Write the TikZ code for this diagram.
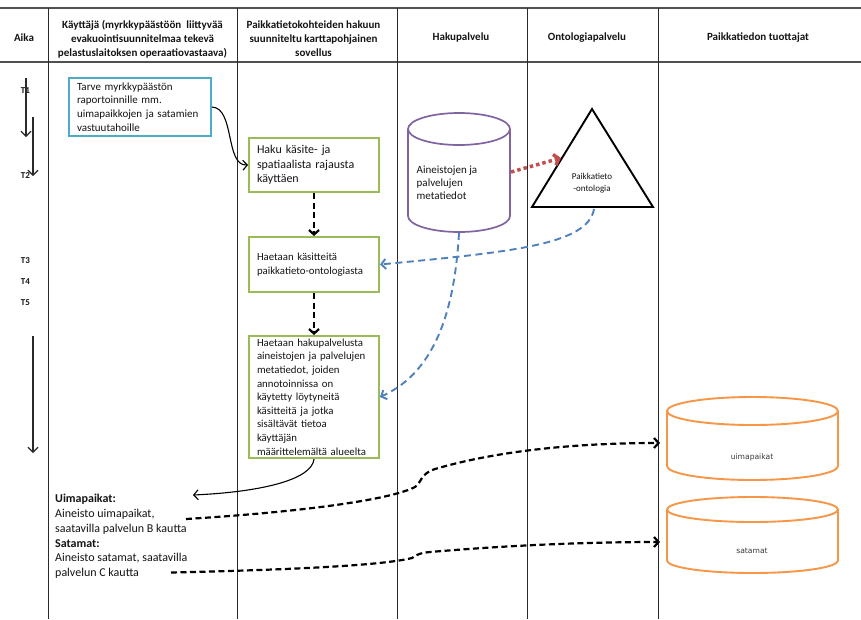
\documentclass[tikz,border=0pt]{standalone}
\usepackage{fontspec}
\setmainfont{Carlito}
\newfontfamily\dejavu{DejaVu Sans}
\usetikzlibrary{arrows.meta}

\definecolor{gridgray}{HTML}{2A2A2A}
\definecolor{rulegray}{HTML}{505050}
\definecolor{tealbox}{HTML}{4BACC6}
\definecolor{greenbox}{HTML}{9BBB59}
\definecolor{purplecyl}{HTML}{8064A2}
\definecolor{orangecyl}{HTML}{F79646}
\definecolor{bluelink}{HTML}{4F81BD}
\definecolor{redlink}{HTML}{C0504D}
\definecolor{txt}{HTML}{141414}

\begin{document}
\begin{tikzpicture}[x=1pt,y=-1pt,
  hdr/.style={font=\fontsize{11}{14}\selectfont\bfseries, align=center, inner sep=0pt, text=txt},
  tlabel/.style={font=\fontsize{9}{10}\selectfont\bfseries, inner sep=0pt, text=txt},
  lane/.style={draw=gridgray, line width=0.9pt},
  hrule/.style={draw=rulegray, line width=2pt},
  needbox/.style={draw=tealbox, line width=2pt, inner xsep=8pt, inner ysep=0pt,
    align=left, text width=126pt, minimum width=142pt, text=txt,
    font=\fontsize{11}{13.7}\selectfont},
  stepbox/.style={draw=greenbox, line width=2pt, inner xsep=8pt, inner ysep=0pt,
    align=left, text width=114pt, minimum width=130pt, text=txt},
  timearrow/.style={draw=gridgray, line width=1.1pt, -{Straight Barb[length=5pt,width=10pt]}},
  thinlink/.style={draw=black, line width=1.1pt, -{Straight Barb[length=4.5pt,width=10pt]}},
  flowdash/.style={draw=black, line width=2.2pt, dash pattern=on 6pt off 3.5pt,
    -{Straight Barb[length=4.5pt,width=10pt]}},
  bluedash/.style={draw=bluelink, line width=1.9pt, dash pattern=on 7pt off 4.5pt,
    -{Straight Barb[length=4.5pt,width=10pt]}},
  reddot/.style={draw=redlink, line width=3.5pt, dash pattern=on 3.5pt off 3pt,
    -{Straight Barb[length=4.5pt,width=11pt]}},
  smalltxt/.style={font=\fontsize{11}{13.4}\selectfont, align=left, inner sep=0pt, text=txt}
]
\useasboundingbox (0,0) rectangle (861,619);
\fill[white] (0,0) rectangle (861,619);

% swimlane grid
\draw[hrule, line width=2.4pt] (0,8) -- (861,8);
\draw[hrule] (0,62) -- (861,62);
\foreach \lx in {48,237,397,527,658} \draw[lane] (\lx,8) -- (\lx,619);

% lane headers
\node[hdr] (haika) at (24,37.5) {Aika};
\node[hdr] (hkayt) at (142.5,39) {Käyttäjä (myrkkypäästöön\ \ liittyvää\\evakuointisuunnitelmaa tekevä\\pelastuslaitoksen operaatiovastaava)};
\node[hdr] (hsov) at (313.5,39) {Paikkatietokohteiden hakuun\\suunniteltu karttapohjainen\\sovellus};
\node[hdr] (hhaku) at (461,37.5) {Hakupalvelu};
\node[hdr] (honto) at (587,37.5) {Ontologiapalvelu};
\node[hdr] (htuot) at (758,37.5) {Paikkatiedon tuottajat};

% time axis
\node[tlabel] (t1) at (25.5,90.5) {T1};
\node[tlabel] (t2) at (25.5,176) {T2};
\node[tlabel] (t3) at (25.5,260.5) {T3};
\node[tlabel] (t4) at (25.5,281.5) {T4};
\node[tlabel] (t5) at (25.5,303) {T5};
\coordinate (ta1) at (26,78);  \coordinate (tb1) at (26,137);
\coordinate (ta2) at (33,117); \coordinate (tb2) at (33,176);
\coordinate (ta3) at (33,336); \coordinate (tb3) at (33,453);
\draw[timearrow] (ta1) -- (tb1);
\draw[timearrow] (ta2) -- (tb2);
\draw[timearrow] (ta3) -- (tb3);

% user need and application steps
\node[needbox, minimum height=58pt] (need) at (140,107)
  {Tarve myrkkypäästön\\raportoinnille mm.\\uimapaikkojen ja satamien\\vastuutahoille};
\node[stepbox, minimum height=54pt, font=\fontsize{12}{14.4}\selectfont] (haku) at (314,165)
  {Haku käsite- ja\\spatiaalista rajausta\\käyttäen};
\node[stepbox, minimum height=55pt, font=\fontsize{10.8}{14.3}\selectfont] (kasit) at (314,264.5)
  {Haetaan käsitteitä\\paikkatieto-ontologiasta};
\node[stepbox, minimum height=122pt, font=\fontsize{10.8}{13.6}\selectfont] (meta) at (314,397)
  {Haetaan hakupalvelusta\\aineistojen ja palvelujen\\metatiedot, joiden\\annotoinnissa on\\käytetty löytyneitä\\käsitteitä ja jotka\\sisältävät tietoa\\käyttäjän\\määrittelemältä alueelta};

% metadata store of the search service
\draw[purplecyl, line width=1.7pt] (408,129) -- (408,216)
  arc[start angle=180, end angle=360, x radius=51pt, y radius=16pt] -- (510,129);
\draw[purplecyl, line width=1.7pt] (459,129) ellipse[x radius=51pt, y radius=16pt];
\node[smalltxt, anchor=west, font=\fontsize{11}{13.4}\selectfont] (store) at (416.5,182.7)
  {Aineistojen ja\\palvelujen\\metatiedot};
\coordinate (storeR) at (511,172);
\coordinate (storeB) at (459,233);

% ontology
\draw[black, line width=1.9pt, line join=miter] (592,109) -- (653,207) -- (532,207) -- cycle;
\node[smalltxt, align=center, font=\fontsize{9}{12}\selectfont] (onto) at (592,183.5)
  {Paikkatieto\\-ontologia};
\coordinate (ontoL) at (561,158);
\coordinate (ontoB) at (594,209);

% data producers
\draw[orangecyl, line width=1.9pt] (667,411) -- (667,466)
  arc[start angle=180, end angle=360, x radius=85.5pt, y radius=14pt] -- (838,411);
\draw[orangecyl, line width=1.9pt] (752.5,411) ellipse[x radius=85.5pt, y radius=14pt];
\node[inner sep=0pt, font=\dejavu\fontsize{7.6}{9}\selectfont, text=txt!85] (uima) at (752,457) {uimapaikat};
\draw[orangecyl, line width=1.9pt] (667,509.5) -- (667,560.5)
  arc[start angle=180, end angle=360, x radius=85.5pt, y radius=12.5pt] -- (838,509.5);
\draw[orangecyl, line width=1.9pt] (752.5,509.5) ellipse[x radius=85.5pt, y radius=12.5pt];
\node[inner sep=0pt, font=\dejavu\fontsize{7.6}{9}\selectfont, text=txt!85] (satam) at (752,551) {satamat};
\coordinate (uimaIn) at (660,443);
\coordinate (satamIn) at (660,542);

% result list for the user
\node[smalltxt, anchor=north west, font=\fontsize{12}{14.8}\selectfont] (tulos) at (55,494)
  {\textbf{Uimapaikat:}\\Aineisto uimapaikat,\\saatavilla palvelun B kautta\\\textbf{Satamat:}\\Aineisto satamat, saatavilla\\palvelun C kautta};
\coordinate (tulosIn) at (193,495);
\coordinate (uimaOut) at (186,519);
\coordinate (satamOut) at (171,572.5);

% connectors
\draw[thinlink] (need.east) .. controls (235,108) and (225,166) .. (haku.west);
\draw[flowdash] (haku.south) -- (kasit.north);
\draw[flowdash] (kasit.south) -- (meta.north);
\draw[reddot] (storeR) -- (ontoL);
\draw[bluedash] (ontoB) .. controls (588,245) and (510,252) .. (kasit.east);
\draw[bluedash] (storeB) .. controls (455,300) and (440,370) .. (meta.east);
\draw[thinlink] (meta.south) .. controls (312,480) and (260,492) .. (tulosIn);
\draw[flowdash] (uimaOut) .. controls (300,512) and (390,500) .. (415,487)
  .. controls (422,482) and (420,474) .. (435,469)
  .. controls (500,450) and (580,443) .. (uimaIn);
\draw[flowdash] (satamOut) .. controls (280,570) and (380,566) .. (412,558)
  .. controls (418,554) and (420,553) .. (430,552)
  .. controls (500,546) and (580,542) .. (satamIn);
\end{tikzpicture}
\end{document}
